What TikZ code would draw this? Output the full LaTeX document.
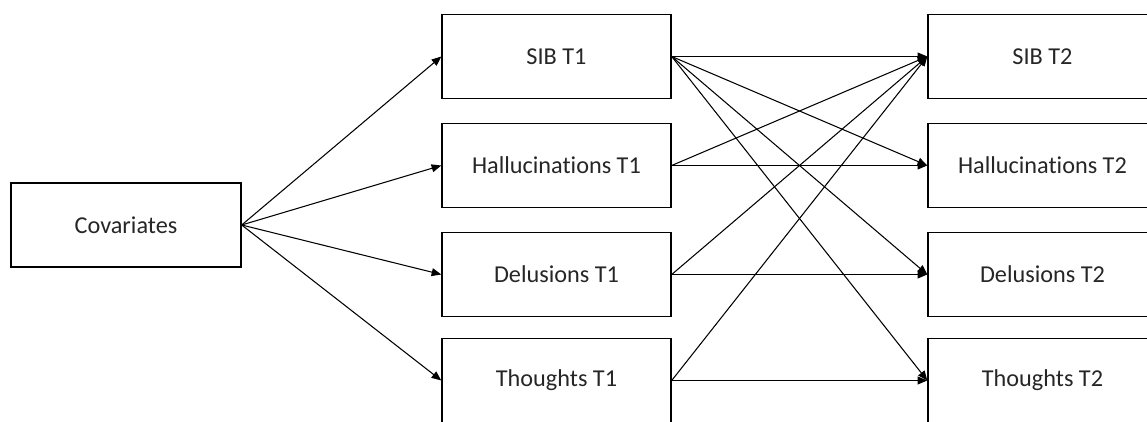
\documentclass[tikz,border=0pt]{standalone}
\usepackage{fontspec}
\setmainfont{Carlito}[Ligatures=NoCommon]
\usetikzlibrary{arrows.meta}

\begin{document}
\begin{tikzpicture}[line width=0.8pt,
	box/.style={draw, minimum width=4.58cm, minimum height=1.68cm, inner sep=0pt, text=black!85, font=\fontsize{13.8}{16}\selectfont},
	link/.style={line width=0.6pt, -{Triangle[length=5.5pt, width=4.5pt]}}]
	\useasboundingbox (0,0) rectangle (22.94,-8.44);

	\node[box, minimum width=4.6cm] (cov) at (2.52,-4.5) {Covariates};

	\node[box] (sib1) at (11.13,-1.13) {SIB T1};
	\node[box] (hal1) at (11.13,-3.31) {Hallucinations T1};
	\node[box] (del1) at (11.13,-5.49) {Delusions T1};
	\node[box] (tho1) at (11.13,-7.61) {Thoughts T1};

	\node[box] (sib2) at (20.85,-1.13) {SIB T2};
	\node[box] (hal2) at (20.85,-3.31) {Hallucinations T2};
	\node[box] (del2) at (20.85,-5.49) {Delusions T2};
	\node[box] (tho2) at (20.85,-7.61) {Thoughts T2};

	\draw[link] (cov.east) -- (sib1.west);
	\draw[link] (cov.east) -- (hal1.west);
	\draw[link] (cov.east) -- (del1.west);
	\draw[link] (cov.east) -- (tho1.west);

	\draw[link] (sib1.east) -- (sib2.west);
	\draw[link] (sib1.east) -- (hal2.west);
	\draw[link] (sib1.east) -- (del2.west);
	\draw[link] (sib1.east) -- (tho2.west);

	\draw[link] (hal1.east) -- (sib2.west);
	\draw[link] (hal1.east) -- (hal2.west);
	\draw[link] (del1.east) -- (sib2.west);
	\draw[link] (del1.east) -- (del2.west);
	\draw[link] (tho1.east) -- (sib2.west);
	\draw[link] (tho1.east) -- (tho2.west);

\end{tikzpicture}
\end{document}
